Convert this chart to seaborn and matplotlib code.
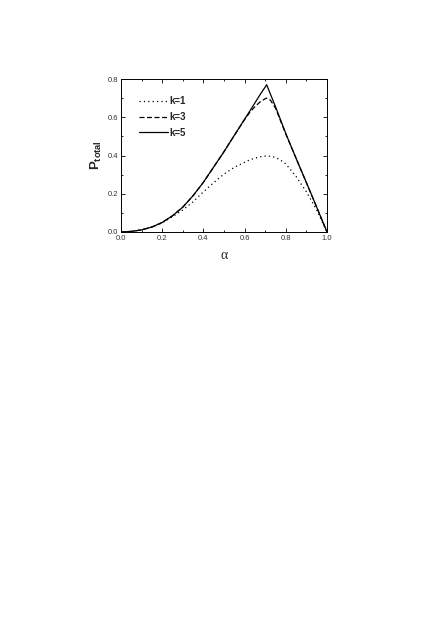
import numpy as np
import pandas as pd
import matplotlib
matplotlib.use("Agg")
import matplotlib.pyplot as plt
import seaborn as sns
from matplotlib.ticker import MultipleLocator, FormatStrFormatter

alpha = [0, .05, .1, .15, .2, .25, .3, .35, .4, .45, .5, .55, .6, .625, .65, .675,
         .7, .7071, .725, .75, .775, .8, .85, .9, .95, 1.0]
p_k1 = [0, .003, .011, .025, .048, .08, .115, .158, .21, .258, .303, .338, .365, .377,
        .386, .393, .397, .398, .396, .39, .375, .356, .29, .21, .115, 0]
p_k3 = [0, .003, .011, .026, .05, .085, .13, .19, .26, .34, .42, .505, .588, .625,
        .655, .68, .697, .700, .69, .648, .58, .512, .385, .258, .13, 0]
p_k5 = [0, .003, .011, .026, .05, .085, .13, .19, .26, .34, .42, .505, .59, .632,
        .675, .718, .758, .770, .722, .655, .585, .515, .385, .258, .13, 0]
labels = ["k=1", "k=3", "k=5"]
xticks = [0.0, 0.2, 0.4, 0.6, 0.8, 1.0]
yticks = [0.0, 0.2, 0.4, 0.6, 0.8]

df = pd.concat([
    pd.DataFrame({"alpha": alpha, "P": p, "k": lab})
    for p, lab in zip([p_k1, p_k3, p_k5], labels)
], ignore_index=True)

sns.set_style("ticks")
plt.rcParams["font.family"] = ["Liberation Sans", "DejaVu Sans"]
plt.rcParams["mathtext.fontset"] = "custom"
plt.rcParams["mathtext.bf"] = "Liberation Sans:bold"
plt.rcParams["mathtext.rm"] = "Liberation Sans"

fig = plt.figure(figsize=(4.36, 6.17), dpi=100)
ax = fig.add_axes([121 / 436, 1 - 232 / 617, (327 - 121) / 436, (232 - 79) / 617])

sns.lineplot(data=df, x="alpha", y="P", style="k", color="black", sort=False,
             dashes={"k=1": (1, 2.5), "k=3": (4, 2), "k=5": ""},
             linewidth=0.9, ax=ax, legend=True)

ax.set_xlim(0, 1.0)
ax.set_ylim(0, 0.8)
ax.set_xticks(xticks)
ax.set_yticks(yticks)
ax.xaxis.set_minor_locator(MultipleLocator(0.1))
ax.yaxis.set_minor_locator(MultipleLocator(0.1))
ax.xaxis.set_major_formatter(FormatStrFormatter("%.1f"))
ax.yaxis.set_major_formatter(FormatStrFormatter("%.1f"))
ax.tick_params(which="both", direction="in", top=True, right=True, width=0.6,
               labelsize=5.5, pad=2, colors="black")
ax.tick_params(which="major", length=3)
ax.tick_params(which="minor", length=1.5)
for lbl in ax.get_xticklabels() + ax.get_yticklabels():
    lbl.set_color("#333333")
for s in ax.spines.values():
    s.set_linewidth(0.7)
    s.set_color("black")

ax.set_xlabel("α", family="Liberation Serif", fontsize=10, labelpad=5)
ax.set_ylabel(r"$\mathbf{P}_{\mathbf{total}}$", fontsize=9.5, labelpad=3)

handles, labs = ax.get_legend_handles_labels()
leg = ax.legend(handles, labs, loc="upper left", bbox_to_anchor=(0.045, 0.945),
                frameon=False, handlelength=3.0, handletextpad=0.15,
                labelspacing=0.6,
                prop={"family": "Liberation Sans", "weight": "bold", "size": 7})
for t in leg.get_texts():
    t.set_fontweight("bold")

fig.savefig("out.png", dpi=100, facecolor="white")
